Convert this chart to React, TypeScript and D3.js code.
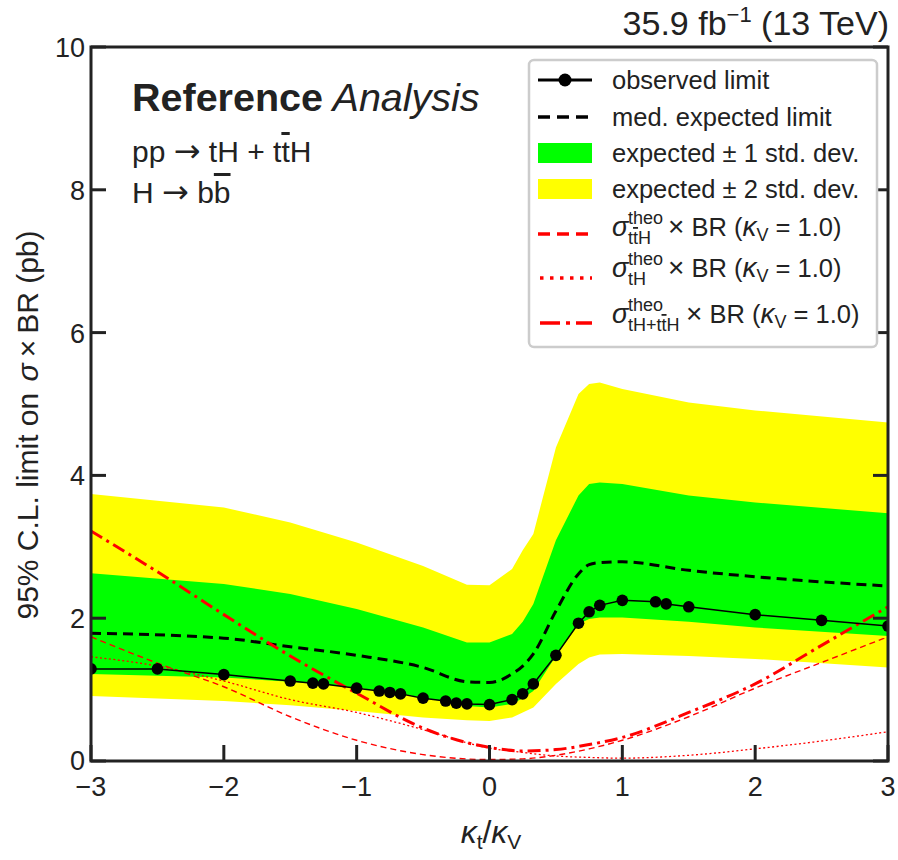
import React from "react";
import * as d3 from "d3";

// ---------- data ----------
const obsK = [-3, -2.5, -2, -1.5, -1.33, -1.25, -1, -0.83, -0.75, -0.67, -0.5, -0.33, -0.25, -0.17, 0, 0.17, 0.25, 0.33, 0.5, 0.67, 0.75, 0.83, 1, 1.25, 1.33, 1.5, 2, 2.5, 3];
const obsVal = [1.29, 1.29, 1.21, 1.12, 1.09, 1.08, 1.02, 0.98, 0.96, 0.94, 0.88, 0.84, 0.81, 0.8, 0.79, 0.86, 0.94, 1.08, 1.48, 1.93, 2.09, 2.18, 2.25, 2.23, 2.2, 2.16, 2.05, 1.97, 1.89];

const bandK = [-3, -2, -1.5, -1, -0.5, -0.17, 0, 0.17, 0.25, 0.33, 0.5, 0.67, 0.75, 0.83, 1, 1.5, 2, 3];
const expMed = [1.79, 1.72, 1.6, 1.48, 1.31, 1.11, 1.1, 1.22, 1.33, 1.5, 2.1, 2.62, 2.75, 2.78, 2.79, 2.67, 2.58, 2.45];
const yellowHi = [3.74, 3.55, 3.34, 3.06, 2.73, 2.47, 2.46, 2.69, 2.95, 3.18, 4.39, 5.14, 5.28, 5.3, 5.21, 5.02, 4.91, 4.74];
const greenHi = [2.63, 2.48, 2.34, 2.13, 1.87, 1.66, 1.66, 1.78, 1.95, 2.2, 3.09, 3.72, 3.88, 3.9, 3.88, 3.72, 3.62, 3.47];
const greenLo = [1.22, 1.17, 1.11, 1.03, 0.89, 0.77, 0.75, 0.8, 0.88, 0.98, 1.47, 1.92, 1.99, 2.01, 2.01, 1.95, 1.87, 1.75];
const yellowLo = [0.91, 0.84, 0.78, 0.7, 0.61, 0.57, 0.56, 0.61, 0.68, 0.75, 1.08, 1.36, 1.45, 1.49, 1.5, 1.47, 1.43, 1.31];

const theoK = [-3, -2.5, -2, -1.5, -1, -0.5, 0, 0.25, 0.5, 0.75, 1, 1.5, 2, 2.5, 3];
const theoTTH = [1.74, 1.37, 1.04, 0.62, 0.29, 0.09, 0.02, 0.03, 0.08, 0.17, 0.29, 0.62, 1.02, 1.38, 1.74];
const theoTH = [1.46, 1.33, 1.12, 0.86, 0.68, 0.44, 0.18, 0.12, 0.07, 0.05, 0.04, 0.08, 0.17, 0.28, 0.41];
const theoSum = [3.22, 2.65, 2.05, 1.47, 0.95, 0.46, 0.19, 0.14, 0.16, 0.23, 0.33, 0.68, 1.08, 1.62, 2.16];

const xTicks = [-3, -2, -1, 0, 1, 2, 3];
const yTicks = [0, 2, 4, 6, 8, 10];

const legendLabels = ["observed limit", "med. expected limit", "expected \u00b1 1 std. dev.", "expected \u00b1 2 std. dev."];

// ---------- layout ----------
const W = 898, H = 860;
const L = 91, R = 888, T = 47, B = 761;
const FONT = "'Liberation Sans', Arial, Helvetica, sans-serif";
const ARROWFONT = "'DejaVu Sans', sans-serif";

export default function App() {
  const x = d3.scaleLinear().domain([-3, 3]).range([L, R]);
  const y = d3.scaleLinear().domain([0, 10]).range([B, T]);

  const bandPts = bandK.map((k, i) => ({ k, i }));
  const area = (lo: number[], hi: number[]) =>
    d3.area<{ k: number; i: number }>()
      .x((d) => x(d.k))
      .y0((d) => y(lo[d.i]))
      .y1((d) => y(hi[d.i]))
      .curve(d3.curveLinear)(bandPts) || "";

  const lineOf = (ks: number[], vs: number[], curve: any) =>
    d3.line<number>().x((_, i) => x(ks[i])).y((v) => y(v)).curve(curve)(vs) || "";

  const yellowPath = area(yellowLo, yellowHi);
  const greenPath = area(greenLo, greenHi);
  const expPath = lineOf(bandK, expMed, d3.curveMonotoneX);
  const obsPath = lineOf(obsK, obsVal, d3.curveLinear);
  const tthPath = lineOf(theoK, theoTTH, d3.curveMonotoneX);
  const thPath = lineOf(theoK, theoTH, d3.curveMonotoneX);
  const sumPath = lineOf(theoK, theoSum, d3.curveMonotoneX);

  // legend geometry
  const lgX0 = 538, lgX1 = 592, lgTx = 612;
  const rowY = [80, 117, 153, 189, 234, 278, 323];
  const rowBase = [89, 126, 162, 198, 236, 277, 323];
  const LFS = 25.5;

  const mathRow = (i: number, sub: React.ReactNode, xStart: number) => (
    <g key={"m" + i} fontFamily={FONT}>
      <text x={lgTx} y={rowBase[i]} fontSize={27} fontStyle="italic" fill="#222">σ</text>
      <text x={lgTx + 16} y={rowBase[i] - 12} fontSize={18} fill="#222">theo</text>
      <text x={lgTx + 16} y={rowBase[i] + 8} fontSize={18} fill="#222">{sub}</text>
      <text x={xStart} y={rowBase[i]} fontSize={LFS} fill="#222">
        <tspan fontSize={28}>×</tspan>
        <tspan> BR (</tspan>
        <tspan fontStyle="italic" fontSize={28}>κ</tspan>
        <tspan fontSize={18} dy={5}>V</tspan>
        <tspan dy={-5}> = 1.0)</tspan>
      </text>
    </g>
  );

  const ov = (s: string) => <tspan style={{ textDecoration: "overline" }}>{s}</tspan>;

  return (
    <svg width={W} height={H} style={{ position: "absolute", left: 0, top: 0, background: "#fff" }} fontFamily={FONT}>
      <defs>
        <clipPath id="plotclip">
          <rect x={L} y={T} width={R - L} height={B - T} />
        </clipPath>
      </defs>
      <rect x={0} y={0} width={W} height={H} fill="#fff" />

      <g clipPath="url(#plotclip)">
        <path d={yellowPath} fill="#ffff00" />
        <path d={greenPath} fill="#00ff00" />
        <path d={expPath} fill="none" stroke="#000" strokeWidth={3} strokeDasharray="10,6" />
        <path d={tthPath} fill="none" stroke="#ff0000" strokeWidth={1.4} strokeDasharray="6,4" />
        <path d={thPath} fill="none" stroke="#ff0000" strokeWidth={1.3} strokeDasharray="2,2.5" />
        <path d={sumPath} fill="none" stroke="#ff0000" strokeWidth={3} strokeDasharray="13,5,3,5" />
        <path d={obsPath} fill="none" stroke="#000" strokeWidth={1.5} />
        {obsK.map((k, i) => (
          <circle key={i} cx={x(k)} cy={y(obsVal[i])} r={5.8} fill="#000" />
        ))}
      </g>

      {/* frame */}
      <rect x={L} y={T} width={R - L} height={B - T} fill="none" stroke="#222" strokeWidth={3} />
      {yTicks.map((t) => (
        <g key={"yt" + t}>
          <line x1={L} x2={L + 15} y1={y(t)} y2={y(t)} stroke="#222" strokeWidth={3} />
          <line x1={R} x2={R - 15} y1={y(t)} y2={y(t)} stroke="#222" strokeWidth={3} />
          <text x={L - 6} y={y(t) + (t === 0 ? 9 : 10)} textAnchor="end" fontSize={27} fill="#222">{t}</text>
        </g>
      ))}
      {xTicks.map((t) => (
        <g key={"xt" + t}>
          <line x1={x(t)} x2={x(t)} y1={B} y2={B - 16} stroke="#222" strokeWidth={3} />
          <text x={x(t)} y={B + 35} textAnchor="middle" fontSize={27} fill="#222">{t < 0 ? "\u2212" + Math.abs(t) : String(t)}</text>
        </g>
      ))}

      {/* axis labels */}
      <text x={491} y={843} textAnchor="middle" fontSize={32} fill="#222">
        <tspan fontStyle="italic">κ</tspan>
        <tspan fontSize={21} dy={6}>t</tspan>
        <tspan dy={-6}>/</tspan>
        <tspan fontStyle="italic">κ</tspan>
        <tspan fontSize={21} dy={6}>V</tspan>
      </text>
      <text transform="translate(38,425) rotate(-90)" textAnchor="middle" fontSize={30} fill="#222">
        95% C.L. limit on <tspan fontStyle="italic" dx={3}>σ</tspan><tspan dx={6}>×</tspan><tspan dx={6}>BR (pb)</tspan>
      </text>

      {/* top right lumi */}
      <text x={889} y={35} textAnchor="end" fontSize={34} fill="#222">
        35.9 fb<tspan fontSize={22} dy={-13}>−1</tspan><tspan dy={13}> (13 TeV)</tspan>
      </text>

      {/* analysis label */}
      <text x={132} y={111} fontSize={39.5} fill="#222">
        <tspan fontWeight="bold">Reference</tspan>
        <tspan fontStyle="italic"> Analysis</tspan>
      </text>
      <text x={132} y={162} fontSize={30} fill="#222">
        pp <tspan fontFamily={ARROWFONT} fontSize={32}>→</tspan> tH + t{ov("t")}H
      </text>
      <text x={132} y={203} fontSize={30} fill="#222">
        H <tspan fontFamily={ARROWFONT} fontSize={32}>→</tspan> b{ov("b")}
      </text>

      {/* legend */}
      <rect x={529} y={60} width={348} height={287} rx={5} fill="#fff" stroke="#cccccc" strokeWidth={2.5} />
      <line x1={lgX0} x2={lgX1} y1={rowY[0]} y2={rowY[0]} stroke="#000" strokeWidth={3} />
      <circle cx={(lgX0 + lgX1) / 2} cy={rowY[0]} r={6.5} fill="#000" />
      <line x1={lgX0} x2={lgX1} y1={rowY[1]} y2={rowY[1]} stroke="#000" strokeWidth={3.5} strokeDasharray="12,7" />
      <rect x={lgX0} y={rowY[2] - 10} width={lgX1 - lgX0} height={20} fill="#00ff00" />
      <rect x={lgX0} y={rowY[3] - 10} width={lgX1 - lgX0} height={20} fill="#ffff00" />
      <line x1={lgX0} x2={lgX1} y1={rowY[4]} y2={rowY[4]} stroke="#ff0000" strokeWidth={3.5} strokeDasharray="12,7" />
      <line x1={lgX0 + 2} x2={lgX1} y1={rowY[5]} y2={rowY[5]} stroke="#ff0000" strokeWidth={3.5} strokeDasharray="3.5,6.5" />
      <line x1={lgX0 + 2} x2={lgX1} y1={rowY[6]} y2={rowY[6]} stroke="#ff0000" strokeWidth={3.5} strokeDasharray="20,6,4,6" />
      {legendLabels.map((s, i) => (
        <text key={s} x={lgTx} y={rowBase[i]} fontSize={LFS} fill="#222">{s}</text>
      ))}
      {mathRow(4, <tspan>t{ov("t")}H</tspan>, 668)}
      {mathRow(5, "tH", 668)}
      {mathRow(6, <tspan>tH+t{ov("t")}H</tspan>, 686)}
    </svg>
  );
}
